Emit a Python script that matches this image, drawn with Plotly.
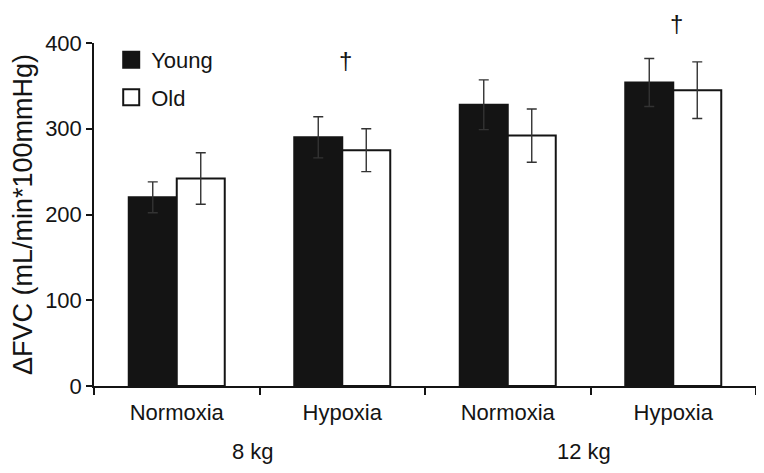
import plotly.graph_objects as go

categories = ["8 kg Normoxia", "8 kg Hypoxia", "12 kg Normoxia", "12 kg Hypoxia"]
tick_labels = ["Normoxia", "Hypoxia", "Normoxia", "Hypoxia"]
load_groups = ["8 kg", "12 kg"]
young_values = [220, 290, 328, 354]
young_err = [18, 24, 29, 28]
old_values = [242, 275, 292, 345]
old_err = [30, 25, 31, 33]
dagger_categories = [1, 3]
dagger_heights = [396, 440]
y_max = 400

FONT = "Liberation Sans, Arial, Helvetica, sans-serif"
INK = "#141414"

fig = go.Figure()
fig.add_trace(go.Bar(
    x=categories, y=young_values, name="Young", showlegend=False,
    marker=dict(color="#141414", line=dict(color="#141414", width=2)),
    error_y=dict(type="data", array=young_err, visible=True,
                 color="#333333", thickness=1.4, width=5),
))
fig.add_trace(go.Bar(
    x=categories, y=old_values, name="Old", showlegend=False,
    marker=dict(color="white", line=dict(color="#141414", width=2)),
    error_y=dict(type="data", array=old_err, visible=True,
                 color="#333333", thickness=1.4, width=5),
))
# legend entries
fig.add_trace(go.Scatter(
    x=[None], y=[None], mode="markers", name="Young", legendgroup="a",
    marker=dict(symbol="square", size=20, color="#141414",
                line=dict(color="#141414", width=2)),
))
fig.add_trace(go.Scatter(
    x=[None], y=[None], mode="markers", name="Old", legendgroup="b",
    marker=dict(symbol="square", size=20, color="white",
                line=dict(color="#141414", width=2)),
))

for c, h in zip(dagger_categories, dagger_heights):
    fig.add_annotation(x=c + 0.02, y=h / y_max, xref="x", yref="paper", text="†",
                       showarrow=False, font=dict(size=24, color=INK, family=FONT),
                       yanchor="top", borderpad=0)

for i, g in enumerate(load_groups):
    fig.add_annotation(x=0.46 + 2 * i, y=-0.192, xref="x", yref="paper", text=g,
                       showarrow=False, font=dict(size=22, color=INK, family=FONT),
                       yanchor="middle")

fig.update_layout(
    width=756, height=465,
    margin=dict(l=86, r=8, t=35, b=87),
    paper_bgcolor="white", plot_bgcolor="white",
    font=dict(family=FONT, size=22, color=INK),
    barmode="group", bargap=0.42, bargroupgap=0,
    legend=dict(x=0.026, y=1.012, xanchor="left", yanchor="top",
                font=dict(size=22, family=FONT, color=INK),
                tracegroupgap=6, bgcolor="rgba(0,0,0,0)"),
    xaxis=dict(
        type="category", tickvals=categories, ticktext=tick_labels,
        tickson="boundaries", ticks="outside", ticklen=7, tickwidth=1.5,
        tickcolor=INK, showline=True, linecolor=INK, linewidth=1.5,
        showgrid=False, tickfont=dict(size=22, family=FONT, color=INK),
        ticklabelstandoff=6,
    ),
    yaxis=dict(
        range=[0, y_max], tickvals=[0, 100, 200, 300, 400], ticks="outside",
        ticklen=6, tickwidth=1.5, tickcolor=INK, showline=True, linecolor=INK,
        linewidth=1.5, showgrid=False, zeroline=False,
        tickfont=dict(size=22, family=FONT, color=INK),
        title=dict(text="ΔFVC (mL/min*100mmHg)", standoff=10,
                   font=dict(size=27, family=FONT, color=INK)),
        automargin=False,
    ),
)

fig.write_html("out.html")
